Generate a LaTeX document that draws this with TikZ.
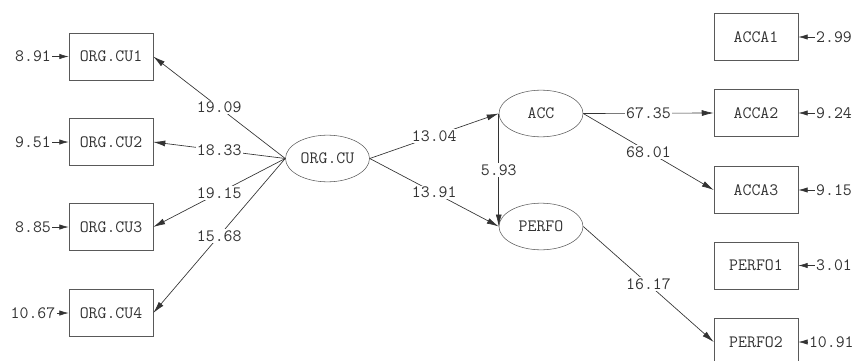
\documentclass[tikz,border=0pt]{standalone}
\usetikzlibrary{shapes,arrows.meta,positioning}
\tikzstyle{obs} = [rectangle, draw=black!65, minimum width=63pt,
    minimum height=35pt, inner sep=0pt]
\tikzstyle{lat} = [ellipse, draw=black!65, minimum width=63pt,
    minimum height=35pt, inner sep=0pt]
\tikzstyle{err} = [inner sep=1pt, node distance=58.5pt]
\tikzstyle{line} = [draw=black!80, line width=0.5pt, -{Latex[length=9pt,width=4.5pt]}]
\tikzstyle{errline} = [draw=black!80, line width=0.5pt, -{Latex[length=7pt,width=4pt]}]
\tikzstyle{coef} = [fill=white, inner sep=1pt, midway]
\begin{document}
\begin{tikzpicture}[x=0.75pt, y=-0.75pt,
    font={\ttfamily\fontsize{13}{15}\selectfont}, text=black!80]
    \useasboundingbox (0,0) rectangle (855,360);
    % Place nodes
    \node [obs] (cu1) at (111,56.5) {ORG.CU1};
    \node [obs] (cu2) at (111,142) {ORG.CU2};
    \node [obs] (cu3) at (111,227) {ORG.CU3};
    \node [obs] (cu4) at (111,313) {ORG.CU4};
    \node [err, left of=cu1] (e1) {8.91};
    \node [err, left of=cu2] (e2) {9.51};
    \node [err, left of=cu3] (e3) {8.85};
    \node [err, left of=cu4] (e4) {10.67};

    \node [lat] (orgcu) at (327.5,158.5) {ORG.CU};
    \node [lat] (acc) at (541,113.5) {ACC};
    \node [lat] (perfo) at (541,226.5) {PERFO};

    \node [obs] (acca1) at (756,37) {ACCA1};
    \node [obs] (acca2) at (756,113) {ACCA2};
    \node [obs] (acca3) at (756,190) {ACCA3};
    \node [obs] (perfo1) at (756,265.5) {PERFO1};
    \node [obs] (perfo2) at (756,342) {PERFO2};
    \node [err, right of=acca1] (d1) {2.99};
    \node [err, right of=acca2] (d2) {9.24};
    \node [err, right of=acca3] (d3) {9.15};
    \node [err, right of=perfo1] (d4) {3.01};
    \node [err, right of=perfo2, node distance=56.5pt] (d5) {10.91};
    % Draw edges
    \path [errline] (e1) -- (cu1);
    \path [errline] (e2) -- (cu2);
    \path [errline] (e3) -- (cu3);
    \path [errline] (e4) -- (cu4);
    \path [errline] (d1) -- (acca1);
    \path [errline] (d2) -- (acca2);
    \path [errline] (d3) -- (acca3);
    \path [errline] (d4) -- (perfo1);
    \path [errline] (d5) -- (perfo2);

    \path [line] (orgcu.west) -- node [coef] {19.09} (cu1.east);
    \path [line] (orgcu.west) -- node [coef] {18.33} (cu2.east);
    \path [line] (orgcu.west) -- node [coef] {19.15} (cu3.east);
    \path [line] (orgcu.west) -- node [coef] {15.68} (cu4.east);
    \path [line] (orgcu.east) -- node [coef] {13.04} (acc.west);
    \path [line] (orgcu.east) -- node [coef] {13.91} (perfo.west);
    \path [line] (acc.west) -- node [coef] {5.93} (perfo.west);
    \path [line] (acc.east) -- node [coef] {67.35} (acca2.west);
    \path [line] (acc.east) -- node [coef] {68.01} (acca3.west);
    \path [line] (perfo.east) -- node [coef] {16.17} (perfo2.west);
\end{tikzpicture}
\end{document}
